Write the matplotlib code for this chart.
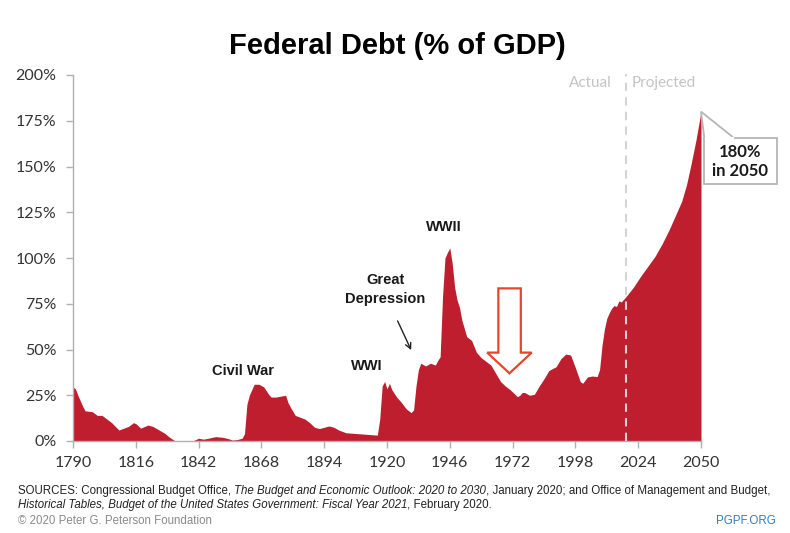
import numpy as np
import matplotlib
matplotlib.use('agg')
import matplotlib.pyplot as plt
from matplotlib.patches import Polygon, FancyBboxPatch

# debt held by the public, % of GDP
years = [1790, 1791, 1792, 1794, 1795, 1798, 1800, 1802, 1804, 1806, 1809, 1811, 1813, 1815, 1816,
         1818, 1821, 1823, 1825, 1828, 1830, 1832, 1836, 1840, 1842, 1844, 1846, 1849, 1852, 1854,
         1856, 1858, 1860, 1861, 1862, 1863, 1865, 1867, 1869, 1871, 1872, 1874, 1876, 1878, 1879,
         1880, 1882, 1884, 1886, 1888, 1890, 1892, 1894, 1896, 1898, 1900, 1903, 1906, 1910, 1913,
         1916, 1917, 1918, 1919, 1920, 1921, 1922, 1924, 1926, 1928, 1930, 1931, 1932, 1933, 1934,
         1936, 1938, 1940, 1941, 1942, 1943, 1944, 1945, 1946, 1947, 1948, 1949, 1950, 1951, 1953,
         1955, 1957, 1959, 1961, 1963, 1965, 1967, 1969, 1971, 1973, 1974, 1975, 1976, 1977, 1979,
         1981, 1983, 1985, 1987, 1990, 1992, 1994, 1996, 1998, 2000, 2001, 2003, 2005, 2007, 2008,
         2009, 2010, 2011, 2012, 2013, 2014, 2015, 2016, 2017, 2018, 2019, 2022, 2025, 2028, 2031,
         2034, 2037, 2040, 2042, 2044, 2046, 2048, 2050]
debt = [29.5, 28.5, 25, 19, 16.5, 16, 14, 14, 12, 10, 6, 7, 8, 10, 9.5,
        7, 8.7, 8, 6.5, 4.2, 2, 0.3, 0, 0.3, 1.5, 1, 1.5, 2.4, 2, 1.4,
        0.5, 0.8, 1.5, 4, 20, 25, 31, 31, 29.5, 25.5, 24, 24, 24.5, 25, 21,
        18.5, 14, 13, 12, 10, 7.5, 6.8, 7.5, 8.2, 7.5, 6, 4.5, 4.2, 3.8, 3.5,
        3.2, 12, 30, 32.5, 28.5, 31.5, 28, 24, 21, 17.5, 15.5, 17, 30, 39, 42.5,
        41, 42.5, 41.5, 44, 46, 79, 100, 103, 105.5, 97, 84, 77, 73, 66, 57,
        55, 48.5, 45.5, 43.5, 41.5, 37, 32.5, 30, 28, 25.5, 24.2, 25, 26.5, 26.5, 25,
        25.5, 30, 34, 38.5, 40.6, 45, 47.5, 47, 40, 32.5, 31.5, 35, 35.5, 35.2, 39,
        52, 61, 67, 70, 72.5, 74, 73.5, 76.5, 76, 77.5, 79, 84, 90, 95.5, 101,
        108, 116, 125, 131, 140, 152, 165, 180]

xticks = [1790, 1816, 1842, 1868, 1894, 1920, 1946, 1972, 1998, 2024, 2050]
yticks = [0, 25, 50, 75, 100, 125, 150, 175, 200]
split_year = 2019

events = [("Civil War", 1860.4, 34.4), ("WWI", 1911.7, 37), ("Great\nDepression", 1919.4, 73.8), ("WWII", 1943.6, 113)]

red = '#be1e2d'
grey_axis = '#b0b0b0'
narrow = ['Liberation Sans Narrow', 'Liberation Sans']

fig = plt.figure(figsize=(7.9, 5.33), dpi=100)
ax = fig.add_axes([73/790, 92/533, 628/790, 366/533])

ax.fill_between(years, debt, 0, color=red, lw=0, zorder=2)
ax.set_xlim(1790, 2050)
ax.set_ylim(0, 200)
ax.set_xticks(xticks)
ax.set_yticks(yticks)
ax.set_yticklabels([f"{v}%" for v in yticks])
for lab in ax.get_xticklabels() + ax.get_yticklabels():
    lab.set_family('Lato')
    lab.set_fontsize(11.5)
    lab.set_color('#333333')
ax.tick_params(axis='both', length=5, width=1, color=grey_axis)
ax.tick_params(axis='x', pad=6)
ax.tick_params(axis='y', pad=7)
for s in ['top', 'right']:
    ax.spines[s].set_visible(False)
for s in ['left', 'bottom']:
    ax.spines[s].set_color(grey_axis)
    ax.spines[s].set_linewidth(1)

# actual / projected divider
ax.plot([split_year, split_year], [0, 200.5], ls=(0, (4, 3)), color='#d4d4d4', lw=1.5, zorder=3, clip_on=False)
ax.text(split_year - 5.8, 195.8, "Actual", ha='right', va='center', fontsize=11, color='#c4c4c4', family='Lato')
ax.text(split_year + 2.3, 195.8, "Projected", ha='left', va='center', fontsize=11, color='#c4c4c4', family='Lato')

# event labels
for name, x, y in events:
    ax.text(x, y, name, ha='center', va='bottom', fontsize=10.5, fontweight='bold',
            family=narrow, color='#1a1a1a', linespacing=1.45)
ax.annotate("", xy=(1930.5, 48.3), xytext=(1923.9, 67),
            arrowprops=dict(arrowstyle='->', color='#222222', lw=1))

# hollow down arrow
arr = [(1966.1, 83.4), (1975.4, 83.4), (1975.4, 48.3), (1979.9, 48.3), (1970.7, 37.0),
       (1961.5, 48.3), (1966.1, 48.3)]
ax.add_patch(Polygon(arr, closed=True, facecolor='white', edgecolor='#e8452c', lw=1.6, zorder=4))

# callout for 2050
last_year, last_val = years[-1], debt[-1]
box = FancyBboxPatch((2051.4, 140.4), 29.9, 25, boxstyle='square,pad=0', facecolor='white',
                     edgecolor='#b5b5b5', lw=1.3, clip_on=False, zorder=5)
ax.add_patch(box)
ax.add_patch(Polygon([(2051.4, 165.4), (last_year, last_val), (2063.8, 165.4)], closed=False,
                     facecolor='white', edgecolor='#b5b5b5', lw=1.3, clip_on=False, zorder=5))
ax.plot([2052.0, 2063.2], [165.4, 165.4], color='white', lw=1.6, clip_on=False, zorder=6)
ax.text(2066.3, 152.8, f"{last_val}%\nin {last_year}", ha='center', va='center', fontsize=12,
        fontweight='bold', family='Lato', color='#1a1a1a', zorder=7, linespacing=1.25, clip_on=False)

# title
fig.text(397/790, 1 - 46/533, "Federal Debt (% of GDP)", ha='center', va='center', fontsize=21,
         fontweight='bold', family=narrow, color='black')

# footer with mixed roman / italic runs
def draw_runs(x_px, y_px, runs, size=8.3, color='#222222'):
    renderer = fig.canvas.get_renderer()
    for s, st in runs:
        t = fig.text(x_px/790, 1 - y_px/533, s, style=st, fontsize=size, family=narrow,
                     color=color, ha='left', va='center')
        x_px += t.get_window_extent(renderer).width

draw_runs(18, 491, [("SOURCES: Congressional Budget Office, ", 'normal'),
                    ("The Budget and Economic Outlook: 2020 to 2030", 'italic'),
                    (", January 2020; and Office of Management and Budget,", 'normal')])
draw_runs(18, 505, [("Historical Tables, Budget of the United States Government: Fiscal Year 2021", 'italic'),
                    (", February 2020.", 'normal')])
fig.text(18/790, 1 - 521/533, "\u00a9 2020 Peter G. Peterson Foundation", fontsize=8.3, family=narrow,
         color='#8a8a8a', ha='left', va='center')
fig.text(776/790, 1 - 521/533, "PGPF.ORG", fontsize=8.3, family=narrow, color='#2f7fc1',
         ha='right', va='center')

fig.savefig('out.png', dpi=100)
